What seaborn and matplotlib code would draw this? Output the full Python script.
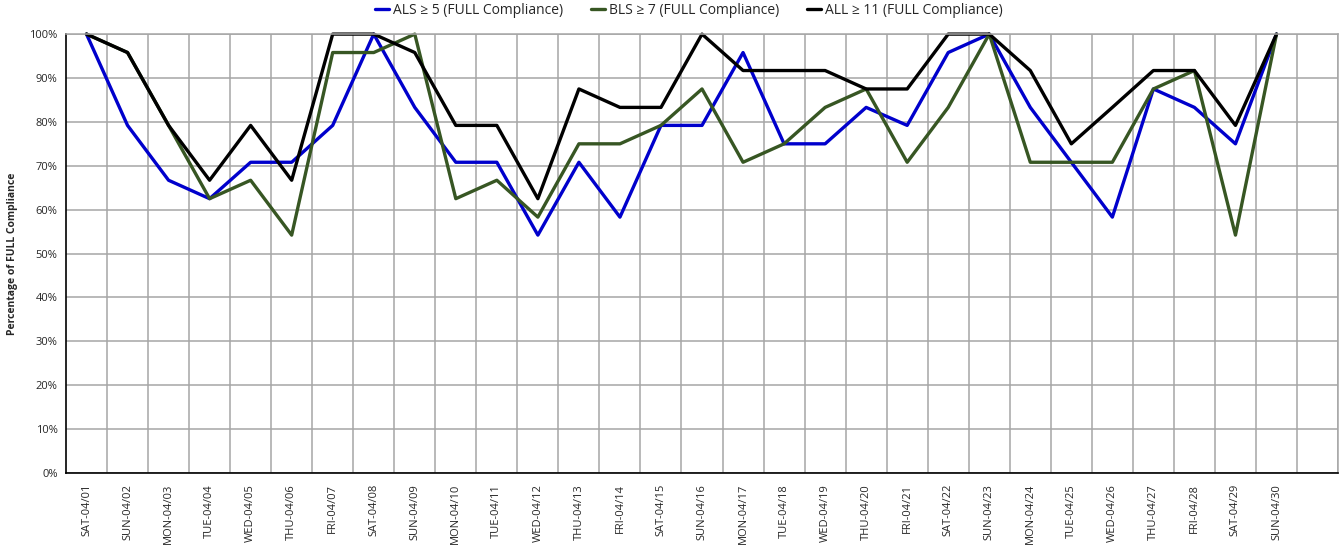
import pandas as pd
import numpy as np
import matplotlib
matplotlib.use("Agg")
import matplotlib.pyplot as plt
import seaborn as sns
from matplotlib.ticker import FixedLocator, PercentFormatter

days = ["SAT-04/01", "SUN-04/02", "MON-04/03", "TUE-04/04", "WED-04/05", "THU-04/06",
        "FRI-04/07", "SAT-04/08", "SUN-04/09", "MON-04/10", "TUE-04/11", "WED-04/12",
        "THU-04/13", "FRI-04/14", "SAT-04/15", "SUN-04/16", "MON-04/17", "TUE-04/18",
        "WED-04/19", "THU-04/20", "FRI-04/21", "SAT-04/22", "SUN-04/23", "MON-04/24",
        "TUE-04/25", "WED-04/26", "THU-04/27", "FRI-04/28", "SAT-04/29", "SUN-04/30"]

als = [100, 79.2, 66.7, 62.5, 70.8, 70.8, 79.2, 100, 83.3, 70.8, 70.8, 54.2, 70.8, 58.3,
       79.2, 79.2, 95.8, 75, 75, 83.3, 79.2, 95.8, 100, 83.3, 70.8, 58.3, 87.5, 83.3, 75, 100]
bls = [100, 95.8, 79.2, 62.5, 66.7, 54.2, 95.8, 95.8, 100, 62.5, 66.7, 58.3, 75, 75,
       79.2, 87.5, 70.8, 75, 83.3, 87.5, 70.8, 83.3, 100, 70.8, 70.8, 70.8, 87.5, 91.7, 54.2, 100]
all_ = [100, 95.8, 79.2, 66.7, 79.2, 66.7, 100, 100, 95.8, 79.2, 79.2, 62.5, 87.5, 83.3,
        83.3, 100, 91.7, 91.7, 91.7, 87.5, 87.5, 100, 100, 91.7, 75, 83.3, 91.7, 91.7, 79.2, 100]

series_names = ["ALS \u2265 5 (FULL Compliance)", "BLS \u2265 7 (FULL Compliance)",
                "ALL \u2265 11 (FULL Compliance)"]
colors = ["#0000CC", "#375623", "#000000"]

# empty slot at the end of the category axis, like the original
tick_labels = days + [""]

df = pd.DataFrame({
    "idx": list(range(len(days))) * 3,
    "pct": als + bls + all_,
    "series": [series_names[0]] * len(days) + [series_names[1]] * len(days) + [series_names[2]] * len(days),
})

sns.set_style("white")
plt.rcParams["font.family"] = ["Open Sans", "DejaVu Sans"]

fig = plt.figure(figsize=(13.41, 5.5), dpi=100)
ax = fig.add_axes([0.0492, 0.14, 0.9486, 0.798])

sns.lineplot(data=df, x="idx", y="pct", hue="series", hue_order=series_names,
             palette=colors, linewidth=2.4, ax=ax, legend=True)
for line in ax.lines:
    line.set_clip_on(False)

n = len(tick_labels)
ax.set_xlim(-0.5, n - 0.5)
ax.set_ylim(0, 100)
ax.xaxis.set_major_locator(FixedLocator(np.arange(n)))
ax.set_xticklabels(tick_labels, rotation=90, fontsize=8)
ax.xaxis.set_minor_locator(FixedLocator(np.arange(n) + 0.5))
ax.set_yticks(np.arange(0, 101, 10))
ax.yaxis.set_major_formatter(PercentFormatter(decimals=0))
ax.tick_params(axis="y", labelsize=8, length=0, pad=6)
ax.tick_params(axis="x", which="both", length=0, pad=8)

ax.grid(axis="y", which="major", color="#A6A6A6", linewidth=1.1)
ax.grid(axis="x", which="minor", color="#A6A6A6", linewidth=1.1)
ax.grid(axis="x", which="major", visible=False)
ax.set_axisbelow(True)

for side in ["top", "right"]:
    ax.spines[side].set_color("#A6A6A6")
    ax.spines[side].set_linewidth(1.1)
for side in ["left", "bottom"]:
    ax.spines[side].set_color("black")
    ax.spines[side].set_linewidth(1.2)

ax.set_xlabel("")
ax.set_ylabel("Percentage of FULL Compliance", fontsize=7.5, fontweight="bold", labelpad=8)

handles, labels = ax.get_legend_handles_labels()
ax.legend(handles, labels, loc="upper center", bbox_to_anchor=(0.49, 1.1), ncol=3,
          frameon=False, fontsize=10, handlelength=1.0, handletextpad=0.3, columnspacing=2.0)

fig.savefig("out.png", dpi=100)
